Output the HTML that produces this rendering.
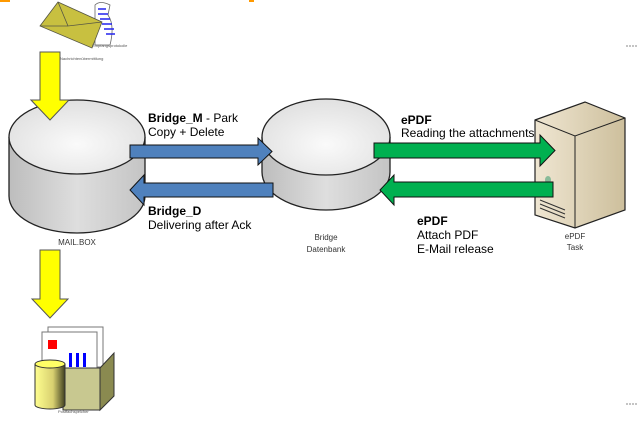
<!DOCTYPE html>
<html><head><meta charset="utf-8"><style>
body{margin:0;background:#fff;width:638px;height:425px;overflow:hidden}
svg{display:block}
text{font-family:"Liberation Sans",sans-serif}
</style></head><body>
<svg width="638" height="425" viewBox="0 0 638 425" xmlns="http://www.w3.org/2000/svg">
<defs>
<linearGradient id="cyl" x1="0" x2="1" y1="0" y2="0">
<stop offset="0" stop-color="#bdbdbd"/><stop offset="0.5" stop-color="#dedede"/><stop offset="1" stop-color="#c4c4c4"/></linearGradient>
<radialGradient id="top" cx="0.5" cy="0.6" r="0.7"><stop offset="0" stop-color="#fafafa"/><stop offset="1" stop-color="#dcdcdc"/></radialGradient>
<linearGradient id="srv" x1="0" x2="1"><stop offset="0" stop-color="#efe6d2"/><stop offset="1" stop-color="#cdbf9c"/></linearGradient>
<linearGradient id="ycyl" x1="0" x2="1"><stop offset="0" stop-color="#ffff90"/><stop offset="0.6" stop-color="#d8d070"/><stop offset="1" stop-color="#404020"/></linearGradient>
</defs>
<rect x="0" y="0" width="10" height="2" fill="#f90"/>
<rect x="249" y="0" width="5" height="2" fill="#f90"/>
<!-- envelope icon -->
<path d="M95 5 Q100 0 110 5 L108 15 Q115 25 110 45 L95 45 Z" fill="#fff" stroke="#666" stroke-width="0.8"/>
<g stroke="#22e" stroke-width="1.5"><line x1="98" y1="9" x2="106" y2="9"/><line x1="98" y1="14" x2="108" y2="14"/><line x1="100" y1="19" x2="110" y2="19"/><line x1="102" y1="24" x2="112" y2="24"/><line x1="104" y1="29" x2="114" y2="29"/><line x1="106" y1="34" x2="115" y2="34"/></g>
<path d="M58 2 L102 22 L92 48 L40 26 Z" fill="#c8c040" stroke="#554" stroke-width="0.8"/>
<path d="M58 2 L68 26 L102 22 M40 26 L68 26" fill="none" stroke="#554" stroke-width="0.8"/>
<text x="92" y="47" font-size="4" fill="#555">Empfangsprotokolle</text>
<text x="60" y="60" font-size="4" fill="#555">Nachrichtenübermittlung</text>
<!-- yellow arrow top -->
<path d="M40 52 H60 V100 H69 L50 120 L31 100 H40 Z" fill="#ff0" stroke="#555" stroke-width="1"/>
<!-- MAIL.BOX -->
<path d="M9 137 V196 A68 37 0 0 0 145 196 V137" fill="url(#cyl)" stroke="#222" stroke-width="1.3"/>
<ellipse cx="77" cy="137" rx="68" ry="37" fill="url(#top)" stroke="#222" stroke-width="1.3"/>
<path d="M40 52 H60 V100 H69 L50 120 L31 100 H40 Z" fill="#ff0" stroke="#555" stroke-width="1"/>
<text x="77" y="245" font-size="8" text-anchor="middle" fill="#333">MAIL.BOX</text>
<!-- Bridge -->
<path d="M262 137 V172 A64 38 0 0 0 390 172 V137" fill="url(#cyl)" stroke="#222" stroke-width="1.3"/>
<ellipse cx="326" cy="137" rx="64" ry="38" fill="url(#top)" stroke="#222" stroke-width="1.3"/>
<text x="326" y="240" font-size="8" text-anchor="middle" fill="#333">Bridge</text>
<text x="326" y="252" font-size="8" text-anchor="middle" fill="#333">Datenbank</text>
<!-- blue arrows -->
<path d="M130 145 H258 V138 L272 151.5 L258 165 V158 H130 Z" fill="#4f81bd" stroke="#111" stroke-width="1"/>
<path d="M273 183 V197 H144 V205 L130 190 L144 175 V183 Z" fill="#4f81bd" stroke="#111" stroke-width="1"/>
<!-- server -->
<path d="M535 120 L585 102 L625 118 L625 210 L575 228 L535 215 Z" fill="url(#srv)" stroke="#222" stroke-width="1.2"/>
<path d="M535 120 L575 136 L625 118 M575 136 V228" fill="none" stroke="#222" stroke-width="1"/>
<g stroke="#333" stroke-width="1"><line x1="540" y1="200" x2="565" y2="210"/><line x1="540" y1="204" x2="565" y2="214"/><line x1="540" y1="208" x2="565" y2="218"/></g>
<ellipse cx="548" cy="180" rx="3" ry="4" fill="#8b9"/>
<text x="575" y="239" font-size="8" text-anchor="middle" fill="#333">ePDF</text>
<text x="575" y="250" font-size="8" text-anchor="middle" fill="#333">Task</text>
<!-- green arrows -->
<path d="M374 143 H540 V135 L555 150.5 L540 166 V158 H374 Z" fill="#00b050" stroke="#111" stroke-width="1"/>
<path d="M553 182 V197 H394 V205 L380 190 L394 175 V182 Z" fill="#00b050" stroke="#111" stroke-width="1"/>
<!-- labels -->
<g font-size="12" fill="#000">
<text x="148" y="122"><tspan font-weight="bold">Bridge_M</tspan> - Park</text>
<text x="148" y="136">Copy + Delete</text>
<text x="148" y="215" font-weight="bold">Bridge_D</text>
<text x="148" y="229">Delivering after Ack</text>
<text x="401" y="124" font-weight="bold">ePDF</text>
<text x="401" y="137">Reading the attachments</text>
<text x="417" y="225" font-weight="bold">ePDF</text>
<text x="417" y="239">Attach PDF</text>
<text x="417" y="253">E-Mail release</text>
</g>
<!-- yellow arrow bottom -->
<path d="M40 250 H60 V299 H68 L50 318 L32 299 H40 Z" fill="#ff0" stroke="#555" stroke-width="1"/>
<!-- storage icon -->
<rect x="48" y="327" width="55" height="40" fill="#fff" stroke="#777"/>
<rect x="42" y="332" width="55" height="40" fill="#fff" stroke="#777"/>
<rect x="48" y="340" width="9" height="9" fill="#f00"/>
<g fill="#00f"><rect x="69" y="353" width="3" height="14"/><rect x="76" y="353" width="3" height="14"/><rect x="83" y="353" width="3" height="14"/></g>
<path d="M63 368 H100 V410 H63 Z" fill="#c8c890" stroke="#333"/>
<path d="M100 368 L114 353 V396 L100 410 Z" fill="#8a8a50" stroke="#333"/>
<path d="M35 364 V405 A15 4 0 0 0 65 405 V364" fill="url(#ycyl)" stroke="#333"/>
<ellipse cx="50" cy="364" rx="15" ry="4" fill="#ff6" stroke="#333"/>
<text x="58" y="413" font-size="4" fill="#555">Postfachspeicher</text>
<line x1="626" y1="46" x2="637" y2="46" stroke="#888" stroke-dasharray="2,1"/>
<line x1="626" y1="404" x2="637" y2="404" stroke="#888" stroke-dasharray="2,1"/>
</svg>
</body></html>
